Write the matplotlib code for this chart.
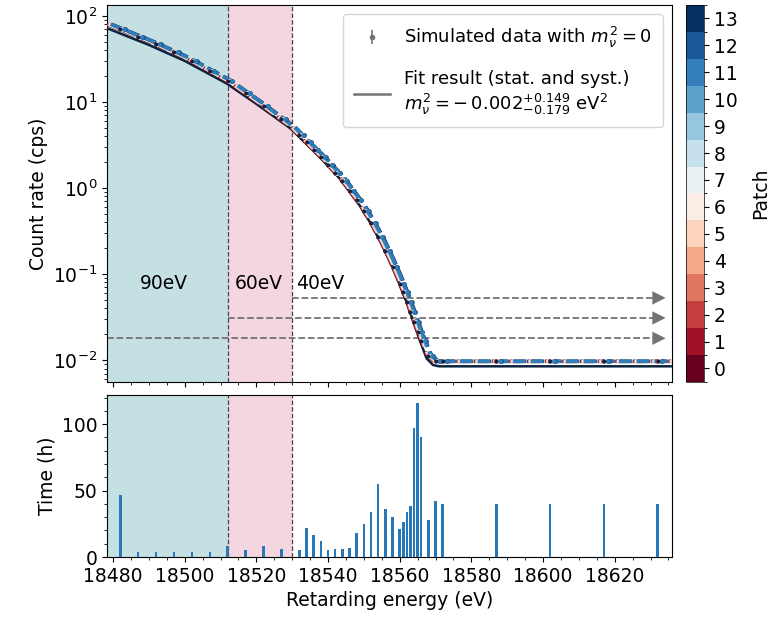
import numpy as np
import matplotlib

matplotlib.use("Agg")
import matplotlib.pyplot as plt  # noqa: E402
from matplotlib.colors import BoundaryNorm, ListedColormap  # noqa: E402
from matplotlib.cm import ScalarMappable  # noqa: E402
from matplotlib.lines import Line2D  # noqa: E402

plt.rcParams.update({"font.size": 13.5})

# scan steps: retarding energy (eV) and measuring time (h)
scan_energy = [18482, 18487, 18492, 18497, 18502, 18507, 18512, 18517, 18522,
               18527, 18532, 18534, 18536, 18538, 18540, 18542, 18544, 18546,
               18548, 18550, 18552, 18554, 18556, 18558, 18560, 18561, 18562,
               18563, 18564, 18565, 18566, 18568, 18570, 18572, 18587, 18602,
               18617, 18632]
scan_time = [47, 4, 4, 4, 4, 4, 8, 5, 8.5, 6, 5, 22, 16.5, 12, 5, 6, 6, 7,
             18, 25, 34, 55, 36, 30, 21, 26, 34, 38.5, 97, 116, 90, 28, 42.5,
             40, 40, 40, 40, 40]
# simulated count rate at each scan step (cps)
data_rate = [70, 57, 47, 37.7, 29.7, 22.9, 17.6, 12.6, 9.0, 6.3, 4.1, 3.4,
             2.75, 2.28, 1.85, 1.51, 1.21, 0.93, 0.72, 0.537, 0.389, 0.273,
             0.185, 0.122, 0.077, 0.062, 0.0477, 0.0363, 0.0277, 0.0213,
             0.0166, 0.0112, 0.0098, 0.0097, 0.0097, 0.0097, 0.0097, 0.0097]

# fitted model (solid) and per-patch model (dashed)
fit_energy = [18478.3, 18490, 18500, 18511.7, 18520, 18529.6, 18532, 18537.7,
              18543.3, 18548.9, 18551.7, 18554.5, 18557, 18559.1, 18561.9,
              18563.7, 18565.6, 18567.5, 18569.3, 18571, 18636]
fit_rate = [72, 46, 30, 16.4, 9.5, 4.9, 3.9, 2.28, 1.28, 0.62, 0.40, 0.243,
            0.147, 0.093, 0.0474, 0.0288, 0.017, 0.0105, 0.0088, 0.0085,
            0.0085]
patch_rate = [80, 50.5, 32.7, 17.7, 10.1, 5.1, 4.0, 2.35, 1.32, 0.64, 0.41,
              0.25, 0.151, 0.096, 0.049, 0.030, 0.0182, 0.0117, 0.0099,
              0.0097, 0.0097]
patch_ids = list(range(14))
patch_shift = [0.0, 0.1, 0.2, 0.3, 0.4, 0.5, 0.6, 0.7, 0.8, 0.9, 1.0, 1.1,
               1.2, 1.3]  # eV
draw_order = [0, 1, 2, 3, 4, 5, 6, 7, 8, 9, 10, 13, 12, 11]

# analysis windows
window_edges = [18512, 18530]
window_labels = ["90eV", "60eV", "40eV"]
label_x = [18487.5, 18514, 18531]
arrow_start = [18530, 18512, 18478.3]
arrow_y = [0.053, 0.031, 0.018]

xlim = (18478.3, 18636)
teal, pink = "#c5e0e2", "#f3d6df"
fit_color = "#0c2340"

cmap = ListedColormap(plt.get_cmap("RdBu")(np.linspace(0, 1, len(patch_ids))))
norm = BoundaryNorm(np.arange(-0.5, len(patch_ids) + 0.5), cmap.N)

fig = plt.figure(figsize=(7.72, 6.21), dpi=100)
ax = fig.add_axes([0.1386, 0.385, 0.7319, 0.607])
axb = fig.add_axes([0.1386, 0.103, 0.7319, 0.261], sharex=ax)
cax = fig.add_axes([0.8886, 0.385, 0.0233, 0.607])

for a in (ax, axb):
    a.axvspan(xlim[0], window_edges[0], color=teal, lw=0, zorder=0)
    a.axvspan(window_edges[0], window_edges[1], color=pink, lw=0, zorder=0)
    for e in window_edges:
        a.axvline(e, color="#4a3f4f", ls="--", lw=0.9, zorder=1)

# top: count rate
ax.set_yscale("log")
ax.plot(fit_energy, fit_rate, color=fit_color, lw=1.8, zorder=3)
for i in draw_order:
    sh = patch_shift[i]
    ax.plot(np.add(fit_energy, sh), patch_rate, ls="--", lw=2.4,
            color=cmap(i), zorder=3)
    ax.plot(np.add(scan_energy, sh), data_rate, ls="none", marker="o", ms=2.2,
            color=cmap(i), zorder=4)
ax.plot(scan_energy, data_rate, ls="none", marker="o", ms=1.6,
        color=fit_color, zorder=5)

for x0, y in zip(arrow_start, arrow_y):
    ax.plot([x0, xlim[1] - 3], [y, y], ls="--", color="0.45", lw=1.3,
            zorder=2)
    ax.annotate("", xy=(xlim[1] - 1.0, y), xytext=(xlim[1] - 4.5, y),
                arrowprops=dict(arrowstyle="-|>", color="0.45", lw=0,
                                mutation_scale=24), zorder=2)
for x, lab in zip(label_x, window_labels):
    ax.text(x, 0.077, lab, ha="left", va="center", fontsize=13.5)

ax.set_xlim(*xlim)
ax.set_ylim(0.0056, 134)
ax.set_ylabel("Count rate (cps)")
ax.tick_params(labelbottom=False)

h_data = Line2D([], [], ls="none", marker="|", ms=10, mew=1.2, color="0.45")
h_dot = Line2D([], [], ls="none", marker="o", ms=3, color="0.45")
h_fit = Line2D([], [], color="0.45", lw=1.8)
ax.legend([(h_data, h_dot), h_fit],
          [r"Simulated data with $m_\nu^2 = 0$",
           "Fit result (stat. and syst.)\n"
           r"$m_\nu^2 = -\,0.002^{+0.149}_{-0.179}$ eV$^2$"],
          loc="upper right", labelspacing=1.1, borderpad=0.6,
          fontsize=13)

# bottom: measuring time distribution
axb.bar(scan_energy, scan_time, width=0.7, color="#2878b8", zorder=3)
axb.set_ylim(0, 122)
axb.set_ylabel("Time (h)")
axb.set_xlabel("Retarding energy (eV)")
axb.xaxis.set_major_locator(matplotlib.ticker.MultipleLocator(20))
axb.xaxis.set_minor_locator(matplotlib.ticker.MultipleLocator(5))
axb.yaxis.set_major_locator(matplotlib.ticker.MultipleLocator(50))
axb.yaxis.set_minor_locator(matplotlib.ticker.MultipleLocator(10))

cb = fig.colorbar(ScalarMappable(norm=norm, cmap=cmap), cax=cax,
                  ticks=patch_ids)
cb.set_label("Patch", labelpad=10)
cb.outline.set_linewidth(0.5)

fig.savefig("out.png", dpi=100)
